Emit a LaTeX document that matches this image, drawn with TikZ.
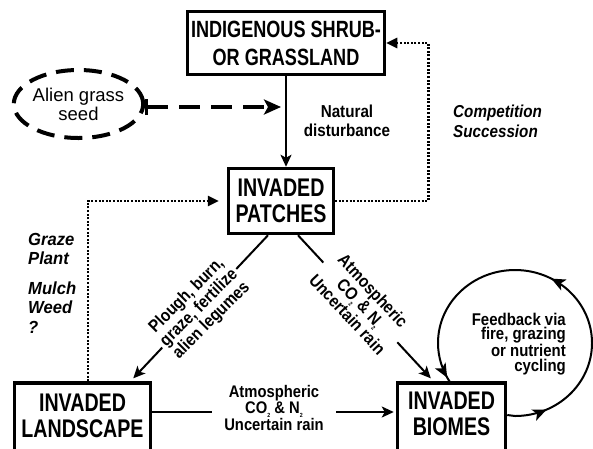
\documentclass[tikz,border=0pt]{standalone}
\usepackage{fontspec}
\setmainfont{Liberation Sans}
\newfontfamily\narrowfont{Liberation Sans}[FakeStretch=0.77]
\newfontfamily\lblfont{Liberation Sans}[FakeStretch=0.88]
\newfontfamily\wlblfont{Liberation Sans}[FakeStretch=0.95]
\usetikzlibrary{arrows.meta,shapes.geometric,decorations.markings,calc}
\newcommand{\subtwo}{\raisebox{-0.45ex}{\fontsize{6}{6}\selectfont 2}}
\begin{document}
\begin{tikzpicture}[x=1pt,y=-1pt,
  box/.style={draw,line width=3.5pt,inner sep=0pt,align=center,
    font=\narrowfont\bfseries\fontsize{25.5}{26.5}\selectfont},
  boxtext/.style={inner sep=0pt,align=center,
    font=\narrowfont\bfseries\fontsize{25.5}{26.5}\selectfont},
  lbl/.style={inner sep=0pt,align=center,
    font=\lblfont\bfseries\fontsize{17.3}{19}\selectfont},
  ilbl/.style={inner sep=0pt,align=left,
    font=\lblfont\bfseries\itshape\fontsize{17.3}{20}\selectfont},
  conn/.style={line width=2pt,-{Stealth[length=12pt,width=11pt,inset=3pt]}},
  dotconn/.style={line width=2.5pt,dash pattern=on 2pt off 1.6pt,
    -{Triangle[length=11pt,width=10pt]}},
  looptip/.style={},
]
\useasboundingbox (0,0) rectangle (593,448);

% boxes
\node[box,minimum width=197pt,minimum height=63pt,
  font=\narrowfont\bfseries\fontsize{23.5}{28}\selectfont] (top) at (286,43)
  {INDIGENOUS SHRUB-\\OR GRASSLAND};
\node[box,minimum width=105pt,minimum height=65pt] (patches) at (281,201)
  {INVADED\\PATCHES};
\node[box,minimum width=136pt,minimum height=74pt] (land) at (82.5,420) {};
\node[boxtext] (landtext) at (82.5,416) {INVADED\\LANDSCAPE};
\node[box,minimum width=108pt,minimum height=74pt] (biomes) at (451.5,420) {};
\node[boxtext] (biomestext) at (451.5,414) {INVADED\\BIOMES};

% alien grass seed
\node[ellipse,draw,line width=4pt,dash pattern=on 18pt off 10pt,
  minimum width=120pt,minimum height=68pt,inner sep=0pt,align=center,
  font=\fontsize{18.5}{19}\selectfont] (seed) at (78.5,104) {Alien grass\\seed};

\draw[line width=4pt,dash pattern=on 21pt off 11pt,shorten >=5pt,
  {Bar[width=16pt,line width=3pt]}-{Stealth[length=17pt,width=15pt,inset=4pt]}]
  ([yshift=-3pt]seed.east) -- ([yshift=-3pt]seed.east -| top.south);

% vertical arrow
\draw[conn] (top.south) -- (top.south |- patches.north);
\node[lbl] (nat) at (347,121) {Natural\\disturbance};

% dotted feedbacks
\draw[dotconn] (patches.east) -- ++(93,0) |- (top.east);
\node[ilbl,anchor=west] (comp) at (453,121) {Competition\\Succession};
\draw[dotconn,shorten >=8pt] ([xshift=5.5pt]land.north) |- (patches.west);
\node[inner sep=0pt,align=left,anchor=west,
  font=\wlblfont\bfseries\itshape\fontsize{17.5}{19.5}\selectfont] (graze) at (28,283)
  {Graze\\Plant\\[10pt]Mulch\\Weed\\?};

% diagonals
\draw[conn,shorten >=4pt] ([xshift=-13pt]patches.south) --
  node[lbl,pos=0.5,rotate=45,fill=white,inner sep=3pt,
    font=\lblfont\bfseries\fontsize{17.3}{17.5}\selectfont]
  {Plough, burn,\\graze, fertilize\\alien legumes} ([xshift=48pt]land.north);
\draw[conn,shorten >=4pt] ([xshift=17pt]patches.south) --
  node[lbl,pos=0.46,rotate=-47,fill=white,inner sep=3pt,
    font=\lblfont\bfseries\fontsize{17.3}{17.5}\selectfont]
  {Atmospheric\\CO\subtwo{} \& N\subtwo\\Uncertain rain} ([xshift=-18pt]biomes.north);

% bottom horizontal
\coordinate (yl) at (0,412);
\draw[conn,shorten >=2pt] (land.east |- yl) --
  node[lbl,fill=white,inner xsep=12pt,inner ysep=1pt,yshift=4pt,
    font=\lblfont\bfseries\fontsize{16.8}{15.5}\selectfont]
  {Atmospheric\\CO\subtwo{} \& N\subtwo\\Uncertain rain} (biomes.west |- yl);

% feedback loop
\coordinate (yb) at (0,415);
\draw[line width=2pt,
  decoration={markings,
    mark=at position 0.1 with {\arrow{Stealth[length=14pt,width=12pt,inset=3.5pt]}},
    mark=at position 0.51 with {\arrow{Stealth[length=14pt,width=12pt,inset=3.5pt]}},
    mark=at position 0.985 with {\arrow{Stealth[length=14pt,width=12pt,inset=3.5pt]}}},
  postaction={decorate}]
  (biomes.east |- yb) -- (515,416) arc[start angle=90,end angle=-213,x radius=77,y radius=73];
\node[inner sep=0pt,align=right,anchor=east,
  font=\lblfont\bfseries\fontsize{17}{14.5}\selectfont] (feed) at (566,344)
  {Feedback via\\fire, grazing\\or nutrient\\cycling};
\end{tikzpicture}
\end{document}
